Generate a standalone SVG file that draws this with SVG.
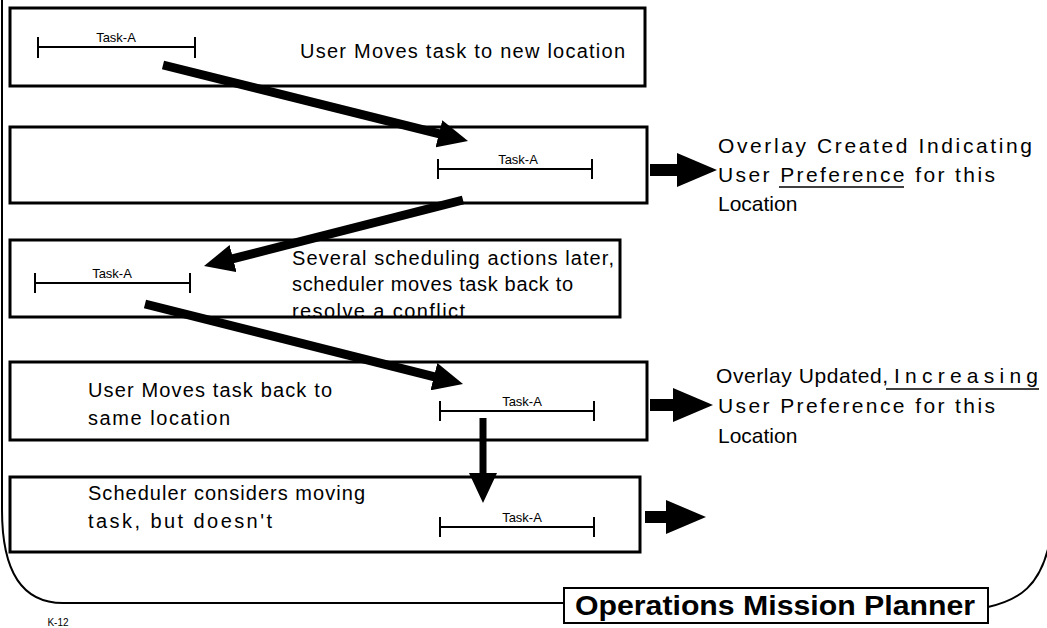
<svg xmlns="http://www.w3.org/2000/svg" width="1047" height="628" viewBox="0 0 1047 628">
<style>
.box{fill:none;stroke:#000;stroke-width:3}
.bar{fill:none;stroke:#000;stroke-width:2}
.t{font-family:"Liberation Sans",Arial,sans-serif;font-size:20px;fill:#000}
.r{font-family:"Liberation Sans",Arial,sans-serif;font-size:21px;fill:#000}
.ta{font-family:"Liberation Sans",Arial,sans-serif;font-size:13px;fill:#000;text-anchor:middle}
.ti{font-family:"Liberation Sans",Arial,sans-serif;font-size:27px;font-weight:bold;fill:#000}
.frame{fill:none;stroke:#000;stroke-width:2}
.sh{stroke:#000;stroke-width:9;fill:none}
.shv{stroke:#000;stroke-width:7;fill:none}
.shr{stroke:#000;stroke-width:12;fill:none}
.ul{stroke:#000;stroke-width:1.5}
</style>
<defs>
<marker id="ah" markerUnits="userSpaceOnUse" viewBox="0 0 30 28" markerWidth="30" markerHeight="28" refX="10" refY="14" orient="auto">
<path d="M0,0 L30,14 L0,28 z" fill="#000"/>
</marker>
<marker id="ahb" markerUnits="userSpaceOnUse" viewBox="0 0 40 34" markerWidth="40" markerHeight="34" refX="10" refY="17" orient="auto">
<path d="M0,0 L40,17 L0,34 z" fill="#000"/>
</marker>
</defs>
<rect width="1047" height="628" fill="#fff"/>
<g id="frame">
<path class="frame" d="M2,0 L2,510 C2,575 25,603 63,603 L564,603"/>
<path class="frame" d="M988,607 C1020,600 1040,585 1049,545"/>
</g>
<g id="title">
<rect x="564" y="588" width="424" height="35" fill="#fff" stroke="#000" stroke-width="2"/>
<text class="ti" x="575" y="615" textLength="400" lengthAdjust="spacingAndGlyphs">Operations Mission Planner</text>
</g>
<g id="step1">
<rect class="box" x="10" y="8" width="635" height="78"/>
<path class="bar" d="M38,37 V58 M38,47 H195 M195,37 V58"/>
<text class="ta" x="116" y="42">Task-A</text>
<text class="t" x="300" y="58" textLength="325" lengthAdjust="spacing">User Moves task to new location</text>
</g>
<g id="step2">
<rect class="box" x="10" y="127" width="637" height="76"/>
<path class="bar" d="M438,159 V179 M438,169 H592 M592,159 V179"/>
<text class="ta" x="518" y="164">Task-A</text>
</g>
<g id="step3">
<rect class="box" x="10" y="240" width="610" height="77"/>
<path class="bar" d="M35,273 V293 M35,283 H190 M190,273 V293"/>
<text class="ta" x="112" y="278">Task-A</text>
<text class="t" x="292" y="265" textLength="322" lengthAdjust="spacing">Several scheduling actions later,</text>
<text class="t" x="292" y="291" textLength="281" lengthAdjust="spacing">scheduler moves task back to</text>
<text class="t" x="292" y="318" textLength="173" lengthAdjust="spacing">resolve a conflict</text>
</g>
<g id="step4">
<rect class="box" x="10" y="362" width="637" height="78"/>
<path class="bar" d="M440,401 V421 M440,411 H594 M594,401 V421"/>
<text class="ta" x="522" y="406">Task-A</text>
<text class="t" x="88" y="397" textLength="244" lengthAdjust="spacing">User Moves task back to</text>
<text class="t" x="88" y="425" textLength="142" lengthAdjust="spacing">same location</text>
</g>
<g id="step5">
<rect class="box" x="10" y="477" width="630" height="75"/>
<path class="bar" d="M440,517 V537 M440,527 H594 M594,517 V537"/>
<text class="ta" x="522" y="522">Task-A</text>
<text class="t" x="88" y="500" textLength="277" lengthAdjust="spacing">Scheduler considers moving</text>
<text class="t" x="88" y="528" textLength="184" lengthAdjust="spacing">task, but doesn't</text>
</g>
<g id="note1">
<text class="r" x="718" y="153" textLength="314" lengthAdjust="spacing">Overlay Created Indicating</text>
<text class="r" x="718" y="182" textLength="277" lengthAdjust="spacing">User Preference for this</text>
<line class="ul" x1="779" y1="187" x2="904" y2="187"/>
<text class="r" x="718" y="211">Location</text>
</g>
<g id="note2">
<text class="r" x="716" y="383" textLength="172" lengthAdjust="spacing">Overlay Updated,</text>
<text class="r" x="894" y="383" textLength="144" lengthAdjust="spacing">Increasing</text>
<line class="ul" x1="886" y1="389" x2="1039" y2="389"/>
<text class="r" x="718" y="413" textLength="277" lengthAdjust="spacing">User Preference for this</text>
<text class="r" x="718" y="443">Location</text>
</g>
<g id="connectors">
<line class="sh" x1="163" y1="65" x2="448.6" y2="136.2" marker-end="url(#ah)"/>
<line class="sh" x1="463" y1="200" x2="223.4" y2="261.1" marker-end="url(#ah)"/>
<line class="sh" x1="145" y1="304" x2="443.6" y2="379.1" marker-end="url(#ah)"/>
<line class="shv" x1="483" y1="418" x2="483" y2="483" marker-end="url(#ah)"/>
<line class="shr" x1="650" y1="170" x2="687" y2="170" marker-end="url(#ahb)"/>
<line class="shr" x1="650" y1="405" x2="683" y2="405" marker-end="url(#ahb)"/>
<line class="shr" x1="645" y1="517" x2="676" y2="517" marker-end="url(#ahb)"/>
</g>
<text class="ta" x="58" y="626" style="font-size:10px">K-12</text>
</svg>
